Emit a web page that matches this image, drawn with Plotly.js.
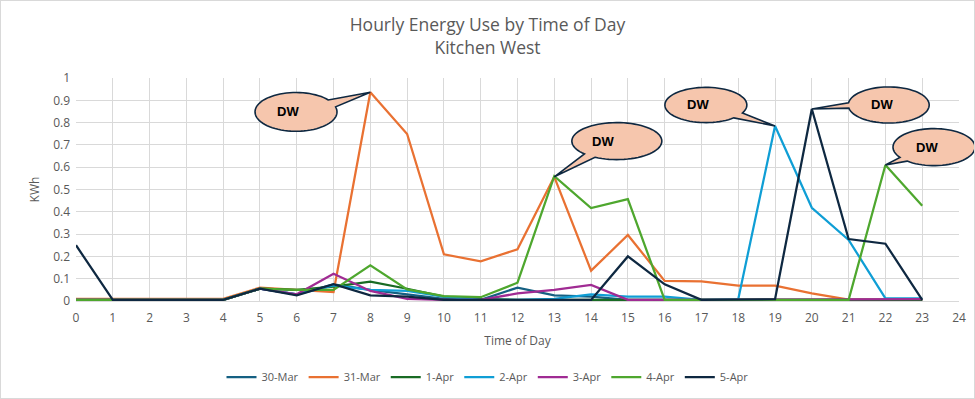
<!DOCTYPE html>
<html>
<head>
<meta charset="utf-8">
<script src="https://cdn.plot.ly/plotly-3.0.1.min.js"></script>
<style>
html,body{margin:0;padding:0;background:#fff;}
#chart{width:975px;height:399px;box-sizing:border-box;border:1px solid #d9d9d9;}
</style>
</head>
<body>
<div id="chart"></div>
<script>
// ---- data ----
const hours = [0,1,2,3,4,5,6,7,8,9,10,11,12,13,14,15,16,17,18,19,20,21,22,23];
const seriesNames = ["30-Mar","31-Mar","1-Apr","2-Apr","3-Apr","4-Apr","5-Apr"];
const mar30 = [0.005,0.005,0.005,0.005,0.005,0.055,0.03,0.075,0.05,0.03,0.01,0.005,0.06,0.025,0.02,0.005,0.005,0.005,0.005,0.005,0.005,0.005,0.005,0.005];
const mar31 = [0.01,0.01,0.01,0.01,0.01,0.06,0.05,0.04,0.936,0.749,0.209,0.178,0.232,0.557,0.136,0.296,0.09,0.088,0.069,0.069,0.034,0.006,0.006,0.006];
const apr1  = [0.005,0.005,0.005,0.005,0.005,0.055,0.05,0.065,0.087,0.055,0.02,0.01,0.005,0.005,0.005,0.005,0.005,0.005,0.005,0.005,0.005,0.005,0.005,0.005];
const apr2  = [0.005,0.005,0.005,0.005,0.005,0.055,0.03,0.07,0.05,0.045,0.02,0.005,0.005,0.01,0.03,0.02,0.02,0.005,0.008,0.785,0.418,0.274,0.012,0.012];
const apr3  = [0.005,0.005,0.005,0.005,0.005,0.055,0.03,0.122,0.045,0.01,0.005,0.005,0.034,0.05,0.072,0.005,0.005,0.005,0.005,0.005,0.005,0.005,0.008,0.008];
const apr4  = [0.005,0.005,0.005,0.005,0.005,0.055,0.05,0.05,0.16,0.052,0.022,0.017,0.082,0.56,0.417,0.457,0.005,0.005,0.005,0.005,0.005,0.005,0.61,0.427];
const apr5  = [0.25,0.005,0.005,0.005,0.005,0.055,0.025,0.075,0.025,0.02,0.005,0.005,0.005,0.005,0.005,0.2,0.075,0.005,0.005,0.008,0.861,0.278,0.257,0.005];
const xTickVals = [0,1,2,3,4,5,6,7,8,9,10,11,12,13,14,15,16,17,18,19,20,21,22,23,24];
const callLabel = "DW";

// ---- styling ----
const seriesData = [mar30, mar31, apr1, apr2, apr3, apr4, apr5];
const colors = ["#156082","#E97132","#196B24","#0F9ED5","#A02B93","#4EA72E","#0E2841"];
const X_MAX = 24, Y_MAX = 1;

const traces = seriesData.map((ys, i) => ({
  x: hours, y: ys, type: 'scatter', mode: 'lines', name: seriesNames[i],
  line: {color: colors[i], width: 2.25}, hoverinfo: 'x+y+name'
}));

// callouts: ellipse center (data units), radii (data units), tail attach angles (deg), tip = data point
const callouts = [
  {cx: 5.98,  cy: 0.848, rx: 1.114, ry: 0.087, a1: 15,  a2: 38,  tipX: 8,  tipS: mar31, dx: -8},
  {cx: 14.70, cy: 0.717, rx: 1.223, ry: 0.083, a1: 224, a2: 241, tipX: 13, tipS: mar31, dx: -14},
  {cx: 17.12, cy: 0.879, rx: 1.114, ry: 0.079, a1: -47, a2: -27, tipX: 19, tipS: apr2, dx: -8},
  {cx: 22.09, cy: 0.879, rx: 1.10,  ry: 0.081, a1: 173, a2: 190, tipX: 20, tipS: apr5, dx: -7},
  {cx: 23.32, cy: 0.690, rx: 1.114, ry: 0.083, a1: 214, a2: 229, tipX: 22, tipS: apr4, dx: -7}
];

const shapes = [];
const annotations = [];
callouts.forEach(c => {
  const tipx = hours[c.tipX], tipy = c.tipS[c.tipX];
  const pts = [];
  const a1 = c.a1 * Math.PI/180, a2 = c.a2 * Math.PI/180;
  const n = 72;
  for (let k = 0; k <= n; k++) {
    const t = a2 + (a1 + 2*Math.PI - a2) * k / n;
    pts.push([(c.cx + c.rx*Math.cos(t))/X_MAX, (c.cy + c.ry*Math.sin(t))/Y_MAX]);
  }
  let d = 'M' + pts[0][0].toFixed(5) + ',' + pts[0][1].toFixed(5);
  for (let k = 1; k < pts.length; k++) d += ' L' + pts[k][0].toFixed(5) + ',' + pts[k][1].toFixed(5);
  d += ' L' + (tipx/X_MAX).toFixed(5) + ',' + (tipy/Y_MAX).toFixed(5) + ' Z';
  shapes.push({type:'path', xref:'paper', yref:'paper', path:d, fillcolor:'#F6C6AD',
               line:{color:'#0E2841', width:1.6}, layer:'above'});
  annotations.push({xref:'paper', yref:'paper', x:c.cx/X_MAX, y:c.cy/Y_MAX, xanchor:'center', yanchor:'middle',
    text:'<b>'+callLabel+'</b>', showarrow:false, xshift:c.dx,
    font:{family:'Liberation Sans, Arial, sans-serif', size:13, color:'#000'}});
});

const font = 'Open Sans, Liberation Sans, sans-serif';
const layout = {
  width: 973, height: 397,
  margin: {l: 75, r: 15, t: 77, b: 97, autoexpand: false},
  paper_bgcolor: '#fff', plot_bgcolor: '#fff',
  title: {text: 'Hourly Energy Use by Time of Day<br>Kitchen West', x: 0.5, xanchor: 'center', xref: 'container',
          yref: 'container', y: 1 - 30/397, yanchor: 'middle', font: {family: font, size: 17.5, color: '#595959'}},
  xaxis: {range: [0, X_MAX], tickvals: xTickVals, ticktext: xTickVals.map(String), showgrid: true, gridcolor: '#d9d9d9',
          gridwidth: 1, zeroline: false, showline: true, linecolor: '#d9d9d9', ticks: '', ticklabelstandoff: 6,
          tickfont: {family: font, size: 12, color: '#595959'},
          title: {text: 'Time of Day', standoff: 11, font: {family: font, size: 12, color: '#595959'}}, fixedrange: true},
  yaxis: {range: [0, Y_MAX], dtick: 0.1, showgrid: true, gridcolor: '#d9d9d9', gridwidth: 1, zeroline: false,
          showline: false, ticks: '', ticklabelstandoff: 5, tickfont: {family: font, size: 12, color: '#595959'},
          title: {text: 'KWh', standoff: 10, font: {family: font, size: 12, color: '#595959'}}, fixedrange: true},
  legend: {orientation: 'h', xref: 'container', x: 0.5, xanchor: 'center', yref: 'container', y: 21/397, yanchor: 'middle',
           font: {family: font, size: 11, color: '#595959'}, itemwidth: 30, traceorder: 'normal'},
  shapes: shapes, annotations: annotations, showlegend: true
};

Plotly.newPlot('chart', traces, layout, {displayModeBar: false, staticPlot: true});
</script>
</body>
</html>
